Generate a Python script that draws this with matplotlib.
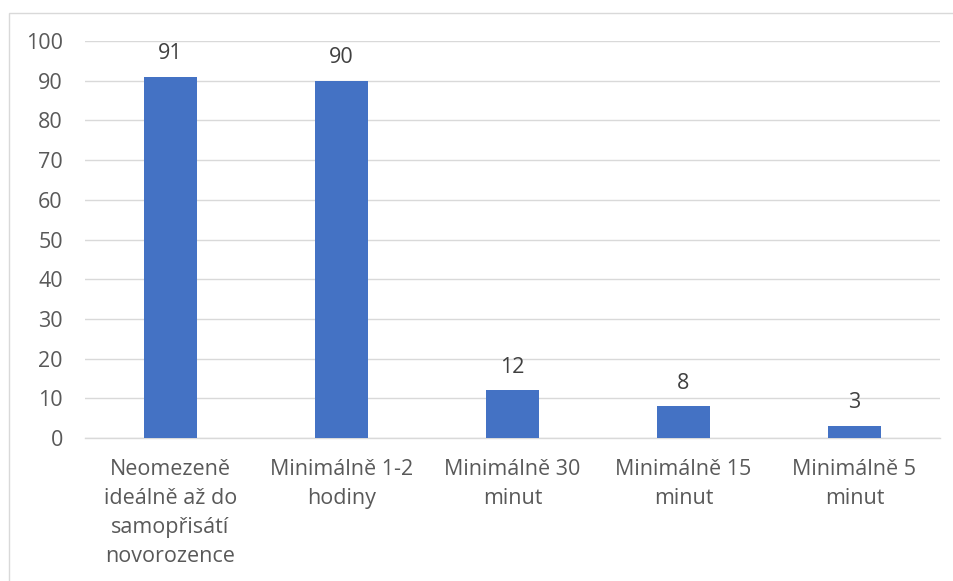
import matplotlib
matplotlib.use("Agg")
import matplotlib.pyplot as plt
from matplotlib.patches import Rectangle

categories = ["Neomezeně\nideálně až do\nsamopřisátí\nnovorozence",
              "Minimálně 1-2\nhodiny",
              "Minimálně 30\nminut",
              "Minimálně 15\nminut",
              "Minimálně 5\nminut"]
values = [91, 90, 12, 8, 3]
yticks = [0, 10, 20, 30, 40, 50, 60, 70, 80, 90, 100]

plt.rcParams['font.family'] = ['Open Sans', 'DejaVu Sans']

W, H = 954, 581
fig = plt.figure(figsize=(W/100, H/100), dpi=100)
ax = fig.add_axes([85/W, 1-438/H, (940-85)/W, (438-41)/H])

x = list(range(len(categories)))
ax.bar(x, values, width=0.31, color='#4472C4', zorder=3)
for xi, v in zip(x, values):
    ax.text(xi, v + 3.2, str(v), ha='center', va='bottom', fontsize=15.5, color='#404040')

ax.set_xlim(-0.5, len(categories) - 0.5)
ax.set_ylim(0, 100)
ax.set_yticks(yticks)
ax.set_yticklabels([str(t) for t in yticks], fontsize=15.5, color='#595959')
ax.set_xticks(x)
ax.set_xticklabels(categories, fontsize=15.5, color='#595959', linespacing=1.5)
ax.tick_params(axis='y', length=0, pad=16)
ax.tick_params(axis='x', length=0, pad=15)
ax.grid(axis='y', color='#d9d9d9', linewidth=1, zorder=0)
for s in ['top', 'right', 'left']:
    ax.spines[s].set_visible(False)
ax.spines['bottom'].set_color('#d9d9d9')
ax.spines['bottom'].set_linewidth(1)

fig.patches.append(Rectangle((9/W, -0.1), 2.0, 1 - 13/H + 0.1, transform=fig.transFigure,
                             fill=False, edgecolor='#d9d9d9', linewidth=1))

fig.savefig('out.png', dpi=100)
